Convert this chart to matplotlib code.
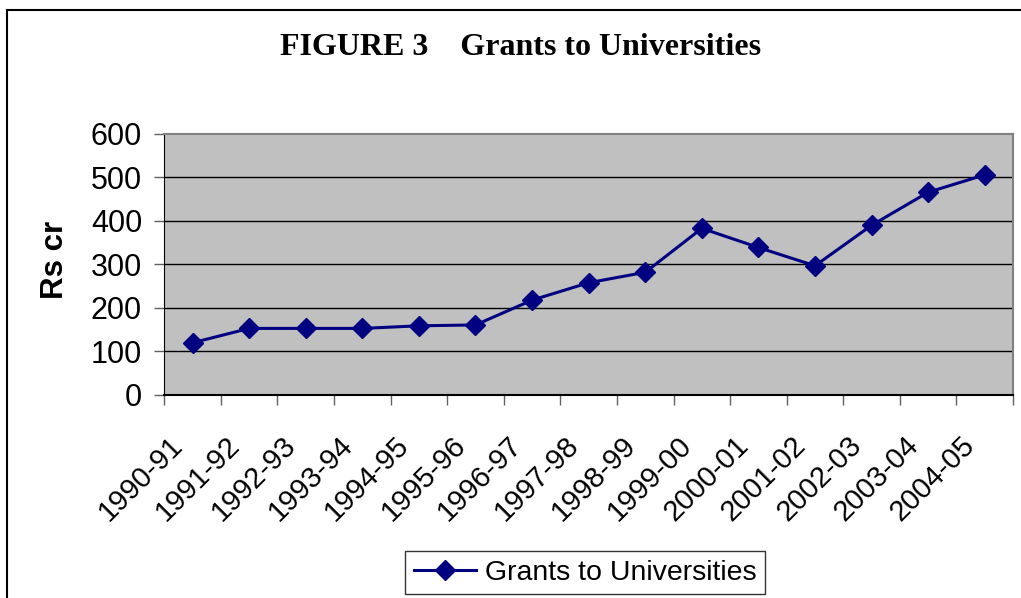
import matplotlib.pyplot as plt
import numpy as np
from matplotlib.lines import Line2D
from matplotlib.transforms import ScaledTranslation

years = ['1990-91', '1991-92', '1992-93', '1993-94', '1994-95', '1995-96',
         '1996-97', '1997-98', '1998-99', '1999-00', '2000-01', '2001-02',
         '2002-03', '2003-04', '2004-05']
grants = [120, 153, 153, 153, 159, 161, 218, 258, 282, 383, 339, 297, 390, 466, 506]
yticks = [0, 100, 200, 300, 400, 500, 600]

fig = plt.figure(figsize=(10.21, 5.98), dpi=100)
ax = fig.add_axes([0.1609, 0.3395, 0.8313, 0.4365])
ax.set_facecolor('#C0C0C0')

x = np.arange(len(years)) + 0.5
ax.plot(x, grants, color='#000080', lw=2.2, marker='D', ms=10,
        label='Grants to Universities', zorder=3)

# axes / grid
ax.set_xlim(0, len(years))
ax.set_ylim(0, 600)
ax.set_yticks(yticks)
ax.set_yticklabels([str(v) for v in yticks], fontsize=22, family='Liberation Sans')
for v in yticks[1:-1]:
    ax.axhline(v, color='black', lw=1, zorder=1)

ax.set_xticks(np.arange(len(years) + 1))
ax.set_xticklabels([])
ax.set_xticks(x, minor=True)
ax.set_xticklabels(years, minor=True, rotation=45, ha='right', va='top',
                   rotation_mode='anchor', fontsize=21, family='Liberation Sans')
ax.tick_params(axis='x', which='minor', length=0, pad=26)
ax.tick_params(axis='x', which='major', length=7, width=1, color='#606060', direction='out')
ax.tick_params(axis='y', length=7, width=1, color='#606060', direction='out', pad=9)
shift = ScaledTranslation(-0.24, 0, fig.dpi_scale_trans)
for lbl in ax.get_xticklabels(minor=True):
    lbl.set_transform(lbl.get_transform() + shift)

ax.spines['left'].set_color('black')
ax.spines['bottom'].set_color('black')
ax.spines['bottom'].set_linewidth(1.5)
ax.spines['top'].set_color('#808080')
ax.spines['right'].set_color('#808080')
ax.spines['top'].set_linewidth(1.5)
ax.spines['right'].set_linewidth(1.5)

fig.text(0.054, 0.565, 'Rs cr', rotation=90, ha='center', va='center',
         fontsize=22.5, fontweight='bold', family='Liberation Sans')

fig.text(0.510, 0.92, 'FIGURE 3    Grants to Universities', ha='center', va='center',
         fontsize=23, fontweight='bold', family='Liberation Serif')

leg = fig.legend(loc='upper left', bbox_to_anchor=(0.3967, 0.0786), borderaxespad=0,
                 frameon=True, fancybox=False,
                 prop={'family': 'Liberation Sans', 'size': 20.5},
                 handlelength=2.2, borderpad=0.3, handletextpad=0.3)
leg.get_frame().set_edgecolor('black')
leg.get_frame().set_linewidth(1)

# outer chart border (cropped at right/bottom)
fig.add_artist(Line2D([0.007, 0.007], [0, 0.983], color='black', lw=1.5, transform=fig.transFigure))
fig.add_artist(Line2D([0.007, 1], [0.983, 0.983], color='black', lw=1.5, transform=fig.transFigure))

fig.savefig('out.png', dpi=100)
